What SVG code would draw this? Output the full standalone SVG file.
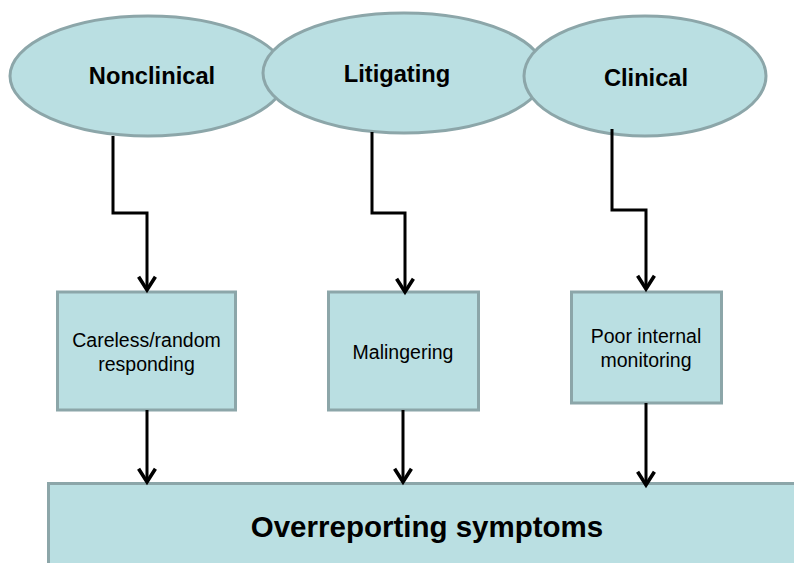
<svg xmlns="http://www.w3.org/2000/svg" width="794" height="563" viewBox="0 0 794 563">
<style>
.shape{fill:#badfe2;stroke:#8ca6a9;stroke-width:3}
.t{font-family:"Liberation Sans",Arial,sans-serif;fill:#000;text-anchor:middle}
.big{font-size:23.7px;font-weight:bold}
.mid{font-size:19.5px}
.huge{font-size:29.5px;font-weight:bold}
.conn{fill:none;stroke:#000;stroke-width:3;stroke-linejoin:miter}
</style>
<defs>
<marker id="arr" markerUnits="userSpaceOnUse" markerWidth="24" markerHeight="24" viewBox="-14 -10 16 20" refX="0" refY="0" orient="auto">
<path d="M-11,-7 L0,0 L-11,7" fill="none" stroke="#000" stroke-width="3"/>
</marker>
</defs>
<rect width="794" height="563" fill="#fff"/>
<g id="nonclinical">
<ellipse class="shape" cx="148" cy="76" rx="138" ry="60"/>
<text class="t big" x="152" y="84">Nonclinical</text>
</g>
<g id="litigating">
<ellipse class="shape" cx="404" cy="73" rx="141" ry="60"/>
<text class="t big" x="397" y="82">Litigating</text>
</g>
<g id="clinical">
<ellipse class="shape" cx="645" cy="76" rx="121" ry="60"/>
<text class="t big" x="646" y="86">Clinical</text>
</g>
<g id="careless">
<rect class="shape" x="57.5" y="292" width="178" height="118"/>
<text class="t mid" x="146.5" y="347">Careless/random</text>
<text class="t mid" x="146.5" y="371">responding</text>
</g>
<g id="malingering">
<rect class="shape" x="328.5" y="292" width="150" height="118"/>
<text class="t mid" x="403" y="359">Malingering</text>
</g>
<g id="poor">
<rect class="shape" x="571.5" y="292" width="150" height="111"/>
<text class="t mid" x="646" y="343">Poor internal</text>
<text class="t mid" x="646" y="367">monitoring</text>
</g>
<g id="overreporting">
<rect class="shape" x="48.5" y="483.5" width="760" height="100"/>
<text class="t huge" x="427" y="537">Overreporting symptoms</text>
</g>
<g id="connectors">
<path class="conn" d="M113,136 V213 H147 V290" marker-end="url(#arr)"/>
<path class="conn" d="M372,132 V213 H405 V292" marker-end="url(#arr)"/>
<path class="conn" d="M612,129 V210 H646 V289" marker-end="url(#arr)"/>
<path class="conn" d="M147,410 V482" marker-end="url(#arr)"/>
<path class="conn" d="M403,410 V482" marker-end="url(#arr)"/>
<path class="conn" d="M646,403 V485" marker-end="url(#arr)"/>
</g>
</svg>
